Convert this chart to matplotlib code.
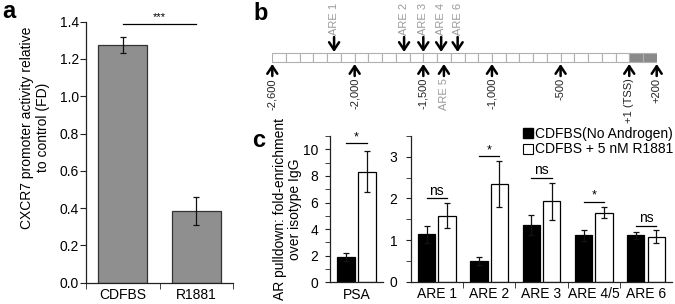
import numpy as np
import matplotlib
matplotlib.use("Agg")
import matplotlib.pyplot as plt
from matplotlib.patches import Rectangle
from matplotlib.lines import Line2D
from matplotlib.ticker import MultipleLocator

plt.rcParams['font.family'] = ['Liberation Sans', 'DejaVu Sans']
plt.rcParams['font.size'] = 10

# panel a: promoter activity
a_groups = ["CDFBS", "R1881"]
a_means = [1.275, 0.385]
a_errs = [0.042, 0.075]

# panel b: promoter map (bp relative to TSS)
b_ticks = [-2600, -2000, -1500, -1000, -500, 0, 200]
b_tick_labels = ["-2,600", "-2,000", "-1,500", "-1,000", "-500", "+1 (TSS)", "+200"]
b_are_top = [-2150, -1640, -1500, -1370, -1250]
b_are_top_labels = ["ARE 1", "ARE 2", "ARE 3", "ARE 4", "ARE 6"]
b_are_bottom = [-1350]
b_are_bottom_labels = ["ARE 5"]

# panel c: AR pulldown
psa_means = [1.92, 8.32]
psa_errs = [0.30, 1.53]
psa_sig = "*"
are_labels = ["ARE 1", "ARE 2", "ARE 3", "ARE 4/5", "ARE 6"]
are_no_androgen = [1.14, 0.50, 1.37, 1.11, 1.11]
are_no_androgen_err = [0.20, 0.09, 0.24, 0.13, 0.09]
are_r1881 = [1.59, 2.35, 1.93, 1.66, 1.08]
are_r1881_err = [0.29, 0.55, 0.45, 0.14, 0.15]
are_sig = ["ns", "*", "ns", "*", "ns"]

W, H = 675, 304
fig = plt.figure(figsize=(W / 100, H / 100), dpi=100)


def box(left, top, right, bottom):
    return [left / W, 1 - bottom / H, (right - left) / W, (bottom - top) / H]


def style_axes(ax):
    for s in ["top", "right"]:
        ax.spines[s].set_visible(False)
    for s in ["left", "bottom"]:
        ax.spines[s].set_color("#222222")
        ax.spines[s].set_linewidth(0.9)


# ---------- a ----------
ax_a = fig.add_axes(box(86, 21.7, 233, 282.7))
style_axes(ax_a)
xa = np.arange(len(a_groups))
ax_a.bar(xa, a_means, width=0.67, color="#8f8f8f", edgecolor="#333333", linewidth=0.9,
         yerr=a_errs, error_kw=dict(ecolor="#111111", elinewidth=0.9, capsize=2, capthick=0.9))
ax_a.set_xlim(-0.5, 1.5)
ax_a.set_ylim(0, 1.4)
ax_a.set_yticks(np.arange(0, 1.41, 0.2))
ax_a.set_yticklabels([f"{v:.1f}" for v in np.arange(0, 1.41, 0.2)])
ax_a.set_xticks(xa)
ax_a.set_xticklabels(a_groups)
ax_a.tick_params(axis="x", which="major", length=0, pad=4)
ax_a.set_xticks([-0.5, 0.5, 1.5], minor=True)
ax_a.tick_params(axis="x", which="minor", length=4, direction="out", color="#222222")
ax_a.tick_params(axis="y", length=4, pad=1, color="#222222")
ax_a.set_ylabel("CXCR7 promoter activity relative\nto control (FD)", va="center", linespacing=1.15)
ax_a.yaxis.set_label_coords(-0.347, 0.595)
ax_a.plot([0, 1], [1.39, 1.39], color="black", lw=0.9, clip_on=False)
ax_a.text(0.5, 1.40, "***", ha="center", va="bottom", fontsize=8, clip_on=False)
fig.text(2 / W, 1 - 18 / H, "a", fontsize=17, fontweight="bold", va="baseline")

# ---------- b ----------
ax_b = fig.add_axes(box(272.3, 0, 656.7, 130))
ax_b.set_xlim(-2600, 200)
ax_b.set_ylim(130, 0)
ax_b.axis("off")
for start in range(-2600, 200, 100):
    fc = "#8a8a8a" if start >= 0 else "white"
    ax_b.add_patch(Rectangle((start, 53.3), 100, 9, facecolor=fc, edgecolor="#b0b0b0", lw=0.8))
arrow_kw = dict(arrowstyle="->,head_length=0.45,head_width=0.3", lw=1.8, color="black",
                shrinkA=0, shrinkB=0, mutation_scale=12)
for x, lab in zip(b_are_top, b_are_top_labels):
    ax_b.annotate("", xy=(x, 52), xytext=(x, 37), arrowprops=arrow_kw)
    ax_b.text(x, 35, lab, rotation=90, ha="center", va="bottom", fontsize=8, color="#9a9a9a")
for x, lab in zip(b_ticks, b_tick_labels):
    ax_b.annotate("", xy=(x, 64), xytext=(x, 76), arrowprops=arrow_kw)
    ax_b.text(x, 78, lab, rotation=90, ha="center", va="top", fontsize=8, color="#222222")
for x, lab in zip(b_are_bottom, b_are_bottom_labels):
    ax_b.annotate("", xy=(x, 64), xytext=(x, 76), arrowprops=arrow_kw)
    ax_b.text(x, 78, lab, rotation=90, ha="center", va="top", fontsize=8, color="#9a9a9a")
fig.text(253 / W, 1 - 20 / H, "b", fontsize=17, fontweight="bold", va="baseline")

# ---------- c ----------
off, bw = 0.195, 0.33
err_kw = dict(ecolor="#111111", elinewidth=0.9, capsize=2, capthick=0.9)

ax_p = fig.add_axes(box(330, 136, 383.3, 282.3))
style_axes(ax_p)
ax_p.bar([-off], [psa_means[0]], width=bw, color="black", edgecolor="black", lw=0.9,
         yerr=[psa_errs[0]], error_kw=err_kw)
ax_p.bar([off], [psa_means[1]], width=bw, color="white", edgecolor="black", lw=0.9,
         yerr=[psa_errs[1]], error_kw=err_kw)
ax_p.set_xlim(-0.5, 0.5)
ax_p.set_ylim(0, 11)
ax_p.yaxis.set_major_locator(MultipleLocator(2))
ax_p.yaxis.set_minor_locator(MultipleLocator(1))
ax_p.set_xticks([0])
ax_p.set_xticklabels(["PSA"])
ax_p.tick_params(axis="x", length=0, pad=4)
ax_p.tick_params(axis="y", which="both", length=3.5, pad=5, color="#222222")
hp = max(np.add(psa_means, psa_errs)) + 0.6
ax_p.plot([-off, off], [hp, hp], color="black", lw=0.9, clip_on=False)
ax_p.text(0, hp, psa_sig, ha="center", va="bottom", fontsize=9, clip_on=False)
ax_p.set_ylabel("AR pulldown: fold-enrichment\nover isotype IgG", va="center", linespacing=1.1)
ax_p.yaxis.set_label_coords(-0.8, 0.5)

ax_c = fig.add_axes(box(410.7, 136, 672.2, 281.7))
style_axes(ax_c)
xc = np.arange(len(are_labels))
ax_c.bar(xc - off, are_no_androgen, width=bw, color="black", edgecolor="black", lw=0.9,
         yerr=are_no_androgen_err, error_kw=err_kw, label="CDFBS(No Androgen)")
ax_c.bar(xc + off, are_r1881, width=bw, color="white", edgecolor="black", lw=0.9,
         yerr=are_r1881_err, error_kw=err_kw, label="CDFBS + 5 nM R1881")
ax_c.set_xlim(-0.5, len(are_labels) - 0.5)
ax_c.set_ylim(0, 3.5)
ax_c.set_yticks([0, 1, 2, 3])
ax_c.yaxis.set_minor_locator(MultipleLocator(0.5))
ax_c.tick_params(axis="y", which="both", length=3.5, pad=6, color="#222222")
ax_c.set_xticks(xc)
ax_c.set_xticklabels(are_labels)
ax_c.tick_params(axis="x", which="major", length=0, pad=4)
ax_c.set_xticks(xc[:-1] + 0.5, minor=True)
ax_c.tick_params(axis="x", which="minor", length=4, direction="out", color="#222222")
for i, s in enumerate(are_sig):
    h = max(are_no_androgen[i] + are_no_androgen_err[i], are_r1881[i] + are_r1881_err[i]) + 0.12
    ax_c.plot([i - off, i + off], [h, h], color="black", lw=0.9, clip_on=False)
    ax_c.text(i, h + (0.0 if s == "*" else 0.02), s, ha="center", va="bottom",
              fontsize=9 if s == "*" else 10, clip_on=False)

handles = [Line2D([], [], marker="s", linestyle="none", markersize=7, markerfacecolor="black",
                  markeredgecolor="black"),
           Line2D([], [], marker="s", linestyle="none", markersize=7, markerfacecolor="white",
                  markeredgecolor="black", markeredgewidth=0.8)]
fig.legend(handles, ["CDFBS(No Androgen)", "CDFBS + 5 nM R1881"], loc="upper right",
           bbox_to_anchor=(673 / W, 1 - 127 / H), frameon=False, fontsize=10,
           handlelength=0.7, handletextpad=0.15, labelspacing=0.1, borderpad=0, borderaxespad=0)
fig.text(252 / W, 1 - 147 / H, "c", fontsize=17, fontweight="bold", va="baseline")

fig.savefig("out.png", dpi=100)
